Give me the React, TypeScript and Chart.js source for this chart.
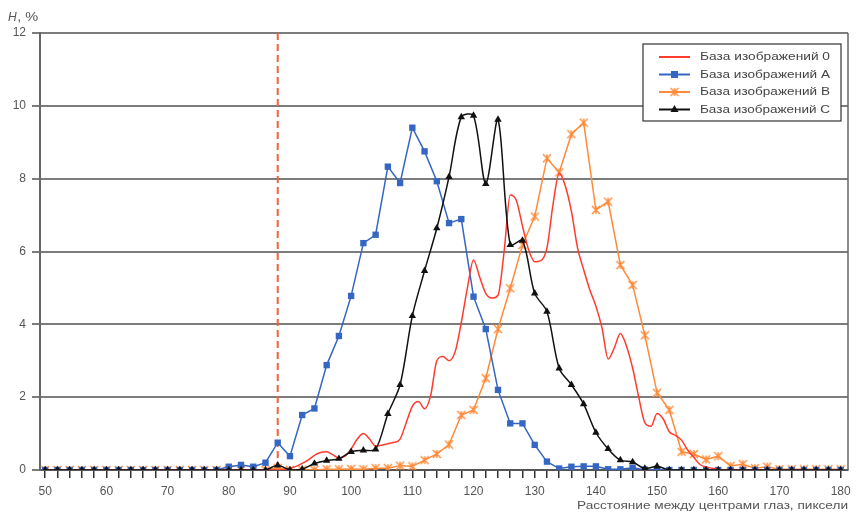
import React, { useEffect, useRef } from "react";
import { Chart, registerables } from "chart.js";

Chart.register(...registerables);

// Interocular distance categories (pixels), step 2
const distances = [
  50, 52, 54, 56, 58, 60, 62, 64, 66, 68, 70, 72, 74, 76, 78, 80, 82, 84, 86, 88,
  90, 92, 94, 96, 98, 100, 102, 104, 106, 108, 110, 112, 114, 116, 118, 120, 122,
  124, 126, 128, 130, 132, 134, 136, 138, 140, 142, 144, 146, 148, 150, 152, 154,
  156, 158, 160, 162, 164, 166, 168, 170, 172, 174, 176, 178, 180,
];

// Finer categories (step 1) for database 0
const fineDistances = [
  50, 51, 52, 53, 54, 55, 56, 57, 58, 59, 60, 61, 62, 63, 64, 65, 66, 67, 68, 69,
  70, 71, 72, 73, 74, 75, 76, 77, 78, 79, 80, 81, 82, 83, 84, 85, 86, 87, 88, 89,
  90, 91, 92, 93, 94, 95, 96, 97, 98, 99, 100, 101, 102, 103, 104, 105, 106, 107,
  108, 109, 110, 111, 112, 113, 114, 115, 116, 117, 118, 119, 120, 121, 122, 123,
  124, 125, 126, 127, 128, 129, 130, 131, 132, 133, 134, 135, 136, 137, 138, 139,
  140, 141, 142, 143, 144, 145, 146, 147, 148, 149, 150, 151, 152, 153, 154, 155,
  156, 157, 158, 159, 160, 161, 162, 163, 164, 165, 166, 167, 168, 169, 170, 171,
  172, 173, 174, 175, 176, 177, 178, 179, 180,
];

const shareBase0 = [
  // 50..87
  0, 0, 0, 0, 0, 0, 0, 0, 0, 0, 0, 0, 0, 0, 0, 0, 0, 0, 0, 0,
  0, 0, 0, 0, 0, 0, 0, 0, 0, 0, 0, 0, 0, 0, 0, 0, 0, 0,
  // 88..161
  0, 0.01, 0.05, 0.1, 0.18, 0.28, 0.4, 0.48, 0.5, 0.42, 0.33, 0.38, 0.58, 0.85,
  1.0, 0.85, 0.66, 0.68, 0.72, 0.76, 0.85, 1.3, 1.75, 1.88, 1.68, 2.05, 3.0, 3.12,
  3.0, 3.25, 4.05, 5.0, 5.77, 5.3, 4.85, 4.72, 4.8, 6.0, 7.55, 7.4, 6.7, 6.05,
  5.72, 5.75, 6.1, 7.3, 8.15, 7.8, 7.1, 6.1, 5.5, 4.95, 4.5, 3.9, 3.05, 3.35,
  3.75, 3.4, 2.8, 2.0, 1.3, 1.2, 1.55, 1.4, 1.05, 0.95, 0.82, 0.55, 0.35, 0.15,
  0.08, 0.05, 0.02, 0,
  // 162..180
  0, 0, 0, 0, 0, 0, 0, 0, 0, 0, 0, 0, 0, 0, 0, 0, 0, 0, 0,
];

const shareBaseA = [
  0, 0, 0, 0, 0, 0, 0, 0, 0, 0, 0, 0, 0, 0, 0,
  0.09, 0.14, 0.09, 0.2, 0.75, 0.38, 1.51, 1.69, 2.88, 3.68, 4.78, 6.23, 6.46,
  8.33, 7.88, 9.4, 8.75, 7.93, 6.78, 6.89, 4.76, 3.87, 2.2, 1.28, 1.28, 0.69,
  0.23, 0.04, 0.09, 0.1, 0.1, 0.02, 0.02, 0.06, 0.01,
  0, 0, 0, 0, 0, 0, 0, 0, 0, 0, 0, 0, 0, 0, 0, 0,
];

const shareBaseB = [
  0, 0, 0, 0, 0, 0, 0, 0, 0, 0, 0, 0, 0, 0, 0, 0, 0, 0, 0,
  0.06, 0, 0.01, 0, 0.02, 0.02, 0.03, 0.02, 0.05, 0.05, 0.12, 0.1, 0.27, 0.44,
  0.7, 1.51, 1.65, 2.52, 3.87, 4.99, 6.18, 6.96, 8.56, 8.17, 9.22, 9.54, 7.14,
  7.37, 5.63, 5.08, 3.7, 2.12, 1.65, 0.5, 0.44, 0.29, 0.38, 0.11, 0.16, 0.05,
  0.09, 0.02, 0.02, 0.02, 0.02, 0.02, 0.02,
];

const shareBaseC = [
  0, 0, 0, 0, 0, 0, 0, 0, 0, 0, 0, 0, 0, 0, 0, 0, 0, 0, 0,
  0.13, 0, 0.02, 0.18, 0.26, 0.31, 0.5, 0.54, 0.57, 1.54, 2.34, 4.23, 5.47, 6.64,
  8.05, 9.69, 9.73, 7.86, 9.62, 6.18, 6.3, 4.85, 4.35, 2.79, 2.34, 1.81, 1.03,
  0.58, 0.27, 0.22, 0.04, 0.1,
  0, 0, 0, 0, 0, 0, 0, 0, 0, 0, 0, 0, 0, 0, 0,
];

const seriesLabels = [
  "База изображений 0",
  "База изображений A",
  "База изображений B",
  "База изображений C",
];

const xLabelValues = [50, 60, 70, 80, 90, 100, 110, 120, 130, 140, 150, 160, 170, 180];
const thresholdDistance = 88;
const yAxisTitle = ["H", ", %"];
const xAxisTitle = "Расстояние между центрами глаз, пиксели";

const FONT = "'Liberation Sans', Arial, sans-serif";
const COLORS = {
  red: "#ff3b2e",
  blue: "#3566c4",
  orange: "#ff8a3a",
  black: "#111111",
  dash: "#f4623a",
  grid: "#7c7c7c",
  text: "#555555",
};

function makeStar(color: string, size: number) {
  const c = document.createElement("canvas");
  c.width = size;
  c.height = size;
  const g = c.getContext("2d")!;
  g.strokeStyle = color;
  g.lineWidth = 1.4;
  const m = size / 2;
  const r = size / 2 - 1;
  g.beginPath();
  g.moveTo(m - r, m - r);
  g.lineTo(m + r, m + r);
  g.moveTo(m + r, m - r);
  g.lineTo(m - r, m + r);
  g.moveTo(m, m - r);
  g.lineTo(m, m + r);
  g.stroke();
  return c;
}

function fitText(ctx: CanvasRenderingContext2D, text: string, x: number, y: number, target: number, align: CanvasTextAlign) {
  const w = ctx.measureText(text).width;
  const sx = target / w;
  ctx.save();
  ctx.translate(x, y);
  ctx.scale(sx, 1);
  ctx.textAlign = align;
  ctx.fillText(text, 0, 0);
  ctx.restore();
}

export default function App() {
  const ref = useRef<HTMLCanvasElement | null>(null);

  useEffect(() => {
    const canvas = ref.current;
    if (!canvas) return;
    const star = makeStar(COLORS.orange, 10);

    const decorPlugin = {
      id: "decor",
      beforeDatasetsDraw(chart: any) {
        const { ctx, chartArea, scales } = chart;
        const x = scales.x.getPixelForValue(thresholdDistance);
        ctx.save();
        ctx.strokeStyle = COLORS.dash;
        ctx.lineWidth = 2;
        ctx.setLineDash([7, 4]);
        ctx.beginPath();
        ctx.moveTo(x, chartArea.top);
        ctx.lineTo(x, chartArea.bottom);
        ctx.stroke();
        ctx.restore();
      },
      afterDraw(chart: any) {
        const { ctx, chartArea } = chart;
        ctx.save();
        // right border
        ctx.strokeStyle = "#666";
        ctx.lineWidth = 1.5;
        ctx.beginPath();
        ctx.moveTo(chartArea.right, chartArea.top);
        ctx.lineTo(chartArea.right, chartArea.bottom);
        ctx.stroke();

        // y title
        ctx.fillStyle = COLORS.text;
        ctx.textBaseline = "middle";
        ctx.font = `italic 12px ${FONT}`;
        ctx.textAlign = "left";
        ctx.fillText(yAxisTitle[0], 8, 18);
        const hw = ctx.measureText(yAxisTitle[0]).width;
        ctx.font = `12px ${FONT}`;
        fitText(ctx, yAxisTitle[1], 8 + hw + 0.5, 18, 21, "left");

        // x title
        ctx.font = `11.5px ${FONT}`;
        fitText(ctx, xAxisTitle, chartArea.right, 506, 271, "right");

        // legend
        const bx = 643, by = 44, bw = 198, bh = 77;
        ctx.fillStyle = "#fff";
        ctx.fillRect(bx, by, bw, bh);
        ctx.strokeStyle = "#333";
        ctx.lineWidth = 1.2;
        ctx.strokeRect(bx, by, bw, bh);
        const rows = [57, 74.5, 92, 109.5];
        chart.data.datasets.forEach((ds: any, i: number) => {
          const y = rows[i];
          ctx.strokeStyle = ds.borderColor;
          ctx.lineWidth = 2;
          ctx.beginPath();
          ctx.moveTo(659, y);
          ctx.lineTo(690, y);
          ctx.stroke();
          const cx = 674.5;
          if (ds.pointStyle === "rect") {
            ctx.fillStyle = ds.borderColor;
            ctx.fillRect(cx - 3.5, y - 3.5, 7, 7);
          } else if (ds.pointStyle === "triangle") {
            ctx.fillStyle = ds.borderColor;
            ctx.beginPath();
            ctx.moveTo(cx, y - 4.5);
            ctx.lineTo(cx + 4, y + 2.5);
            ctx.lineTo(cx - 4, y + 2.5);
            ctx.closePath();
            ctx.fill();
          } else if (ds.pointStyle && typeof ds.pointStyle !== "string") {
            ctx.drawImage(ds.pointStyle, cx - 5, y - 5);
          }
          ctx.fillStyle = "#444";
          ctx.font = `11.5px ${FONT}`;
          ctx.textBaseline = "middle";
          fitText(ctx, ds.label, 700, y, 130, "left");
        });
        ctx.restore();
      },
    };

    const chart = new Chart(canvas, {
      type: "line",
      data: {
        datasets: [
          {
            label: seriesLabels[0],
            data: fineDistances.map((x, i) => ({ x, y: shareBase0[i] })),
            borderColor: COLORS.red,
            backgroundColor: COLORS.red,
            borderWidth: 1.5,
            pointRadius: 0,
            cubicInterpolationMode: "monotone",
            order: 1,
          },
          {
            label: seriesLabels[1],
            data: distances.map((x, i) => ({ x, y: shareBaseA[i] })),
            borderColor: COLORS.blue,
            backgroundColor: COLORS.blue,
            pointBackgroundColor: COLORS.blue,
            pointBorderColor: COLORS.blue,
            borderWidth: 1.5,
            pointStyle: "rect",
            pointRadius: 4.5,
            pointBorderWidth: 0,
            tension: 0,
            order: 2,
          },
          {
            label: seriesLabels[2],
            data: distances.map((x, i) => ({ x, y: shareBaseB[i] })),
            borderColor: COLORS.orange,
            backgroundColor: COLORS.orange,
            borderWidth: 1.5,
            pointStyle: star as any,
            pointRadius: 5,
            tension: 0,
            order: 3,
          },
          {
            label: seriesLabels[3],
            data: distances.map((x, i) => ({ x, y: shareBaseC[i] })),
            borderColor: COLORS.black,
            backgroundColor: COLORS.black,
            pointBackgroundColor: COLORS.black,
            pointBorderColor: COLORS.black,
            borderWidth: 1.5,
            pointStyle: "triangle",
            pointRadius: 4.3,
            pointBorderWidth: 0,
            tension: 0.3,
            order: 0,
          },
        ],
      },
      options: {
        animation: false,
        responsive: false,
        maintainAspectRatio: false,
        layout: { padding: { left: 0, right: 9, top: 33, bottom: 0 } },
        plugins: { legend: { display: false }, tooltip: { enabled: false }, title: { display: false } },
        scales: {
          x: {
            type: "linear",
            min: 49.15,
            max: 181.2,
            afterBuildTicks: (s: any) => {
              s.ticks = distances.map((v) => ({ value: v }));
            },
            afterFit: (s: any) => {
              s.height = 43;
            },
            ticks: {
              autoSkip: false,
              maxRotation: 0,
              padding: 6,
              color: COLORS.text,
              font: { family: FONT, size: 12 },
              callback: (v: any) => (xLabelValues.includes(Number(v)) ? String(v) : ""),
            },
            grid: { drawOnChartArea: false, drawTicks: true, tickLength: 8, color: "#333", lineWidth: 1.5 },
            border: { display: true, color: "#555", width: 2 },
          },
          y: {
            min: 0,
            max: 12,
            afterFit: (s: any) => {
              s.width = 40;
            },
            ticks: {
              stepSize: 2,
              padding: 6,
              color: COLORS.text,
              font: { family: FONT, size: 12 },
            },
            grid: { color: COLORS.grid, lineWidth: 2, tickLength: 8, drawTicks: true },
            border: { display: true, color: "#666", width: 2 },
          },
        },
      },
      plugins: [decorPlugin],
    } as any);

    return () => chart.destroy();
  }, []);

  return (
    <div style={{ position: "absolute", left: 0, top: 0, width: 857, height: 513, background: "#fff" }}>
      <canvas ref={ref} width={857} height={513} style={{ width: 857, height: 513, display: "block" }} />
    </div>
  );
}
